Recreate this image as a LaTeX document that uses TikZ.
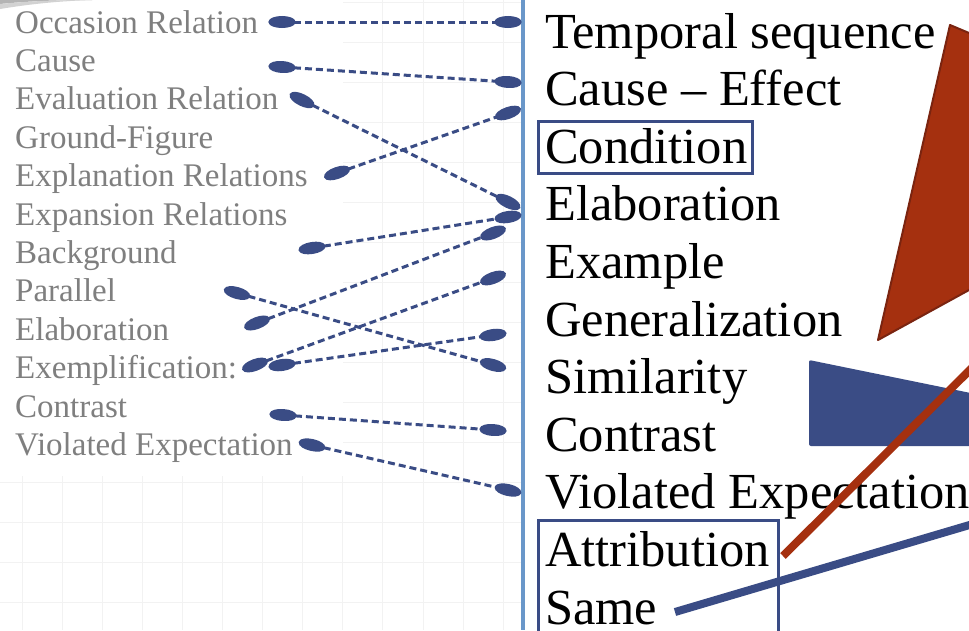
\documentclass[tikz,border=0pt]{standalone}
\usepackage{fontspec}
\setmainfont{Liberation Serif}
\usetikzlibrary{arrows.meta,calc}
\definecolor{navy}{HTML}{3A4C85}
\definecolor{rust}{HTML}{A5300F}
\definecolor{rustdark}{HTML}{7A2410}
\definecolor{steel}{HTML}{6A97C9}
\definecolor{softgray}{HTML}{7F7F7F}
\definecolor{gridline}{HTML}{F2F2F2}
\definecolor{swoosh}{HTML}{B4B4B4}

\begin{document}
\begin{tikzpicture}[x=1pt,y=-1pt,
  oldlabel/.style={anchor=base west, inner sep=0pt, text=softgray,
    font=\fontsize{33}{33}\selectfont},
  newlabel/.style={anchor=base west, inner sep=0pt, text=black,
    font=\fontsize{50.5}{50.5}\selectfont},
  link/.style={navy, line width=3pt, dash pattern=on 7pt off 4pt,
    {Ellipse[length=27pt,width=12pt]}-{Ellipse[length=27pt,width=12pt]}},
  hlbox/.style={draw=navy, line width=3pt},
]
\useasboundingbox (0,0) rectangle (969,630);
\clip (0,0) rectangle (969,630);
\fill[white] (0,0) rectangle (969,630);

% faint background grid
\foreach \k in {0,...,12} \draw[gridline, line width=1pt] ({22+40.1*\k},0) -- ({22+40.1*\k},630);
\foreach \k in {0,...,15} \draw[gridline, line width=1pt] (0,{2+40*\k}) -- (521,{2+40*\k});
\fill[white] (0,0) rectangle (343,476);

% corner swoosh
\fill[swoosh] (0,4) .. controls (30,1) and (60,0) .. (92,0) -- (0,0) -- cycle;
\fill[swoosh!60] (0,9) .. controls (30,4) and (60,1) .. (92,0) .. controls (60,0) and (30,1) .. (0,4) -- cycle;

% divider
\draw[steel, line width=4pt] (523,0) -- (523,630);

% old relation names
\foreach \t [count=\i] in {Occasion Relation, Cause, Evaluation Relation, Ground-Figure,
  Explanation Relations, Expansion Relations, Background, Parallel, Elaboration,
  Exemplification:, Contrast, Violated Expectation}
  \node[oldlabel] (l\i) at (15,{33+38.4*(\i-1)}) {\t};

% new relation names
\foreach \t [count=\i] in {Temporal sequence, Cause – Effect, Condition, Elaboration,
  Example, Generalization, Similarity, Contrast, Violated Expectation, Attribution, Same}
  \node[newlabel] (r\i) at (545,{48+57.6*(\i-1)}) {\t};

% highlight boxes
\draw[hlbox] (538,121) rectangle (752,173);
\draw[hlbox] (538,520) rectangle (778,660);

% oval end points of the mapping links
\coordinate (a1) at (282,22);  \coordinate (b1) at (508,22);
\coordinate (a2) at (282,67);  \coordinate (b2) at (508,82);
\coordinate (a3) at (302,100); \coordinate (b3) at (508,202);
\coordinate (a4) at (337,173); \coordinate (b4) at (508,113);
\coordinate (a5) at (312,248); \coordinate (b5) at (508,217);
\coordinate (a6) at (257,323); \coordinate (b6) at (493,233);
\coordinate (a7) at (255,365); \coordinate (b7) at (493,278);
\coordinate (a8) at (282,365); \coordinate (b8) at (493,335);
\coordinate (a9) at (237,293); \coordinate (b9) at (493,365);
\coordinate (a10) at (283,415); \coordinate (b10) at (493,430);
\coordinate (a11) at (312,445); \coordinate (b11) at (508,490);

\foreach \i in {1,...,11}
  \draw[link] ($(a\i)!-13.5pt!(b\i)$) -- ($(b\i)!-13.5pt!(a\i)$);

% decorative shapes
\filldraw[fill=rust, draw=rustdark, line width=2pt, line join=round]
  (950,25) -- (1000,46) -- (1000,273) -- (878,340) -- cycle;
\fill[navy, rounded corners=2pt] (809,360) -- (1000,399) -- (1000,446) -- (809,446) -- cycle;
\draw[navy, line width=8pt] (675,612) -- (1000,516);
\draw[rust, line width=8pt] (783,556) -- (1000,340);
\end{tikzpicture}
\end{document}
